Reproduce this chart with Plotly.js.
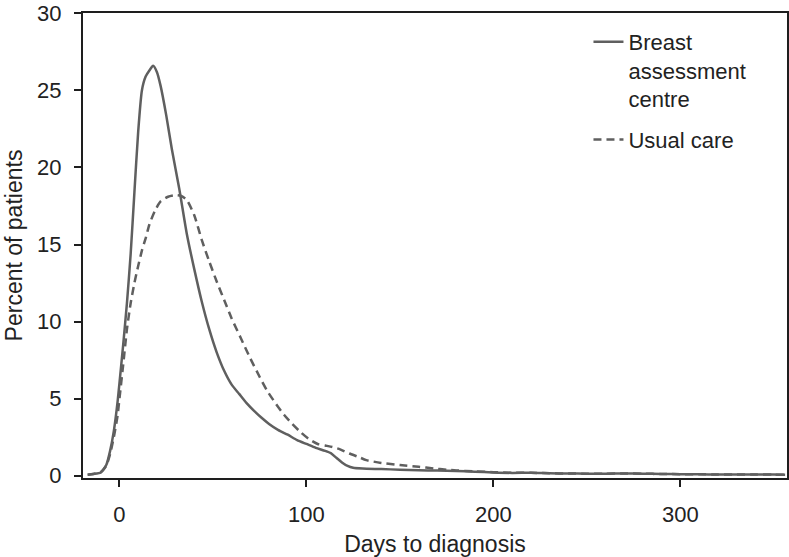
<!DOCTYPE html>
<html>
<head>
<meta charset="utf-8">
<script src="https://cdn.plot.ly/plotly-3.0.1.min.js"></script>
<style>
  html, body { margin: 0; padding: 0; background: #fff; }
  #chart { width: 789px; height: 557px; }
</style>
</head>
<body>
<div id="chart"></div>
<script>
// Breast assessment centre (solid)
const bacDays = [-17, -14, -10, -7, -5, -3, -1, 0, 2, 4, 6, 8, 10, 12, 14, 16, 18, 20, 22, 25, 28, 32, 36, 40, 44, 48, 52, 56, 60, 64, 68, 72, 76, 80, 85, 90, 95, 100, 105, 110, 113, 116, 119, 122, 125, 130, 140, 150, 160, 170, 180, 190, 200, 210, 220, 230, 240, 250, 260, 270, 280, 290, 300, 310, 320, 330, 340, 350, 356];
const bacPct = [0.05, 0.1, 0.2, 0.7, 1.6, 2.9, 4.8, 6.0, 8.5, 11.2, 14.4, 18.4, 22.3, 25.0, 25.9, 26.3, 26.6, 26.2, 25.3, 23.4, 21.2, 18.6, 15.7, 13.4, 11.3, 9.5, 8.0, 6.8, 5.9, 5.3, 4.7, 4.2, 3.75, 3.35, 2.95, 2.65, 2.3, 2.05, 1.8, 1.6, 1.45, 1.15, 0.85, 0.62, 0.5, 0.45, 0.42, 0.38, 0.35, 0.32, 0.3, 0.25, 0.2, 0.17, 0.18, 0.15, 0.13, 0.12, 0.12, 0.13, 0.12, 0.1, 0.09, 0.08, 0.07, 0.07, 0.06, 0.06, 0.05];

// Usual care (dashed)
const ucDays = [-17, -14, -10, -7, -5, -3, -1, 0, 2, 4, 6, 8, 10, 12, 14, 16, 19, 22, 26, 30, 33, 36, 40, 44, 48, 52, 56, 60, 65, 70, 75, 79, 84, 88, 92, 97, 101, 106, 110, 114, 118, 123, 128, 132, 140, 150, 160, 168, 175, 180, 190, 200, 210, 220, 230, 240, 250, 260, 270, 280, 290, 300, 310, 320, 330, 340, 350, 356];
const ucPct = [0.05, 0.1, 0.22, 0.65, 1.4, 2.5, 3.9, 5.0, 7.2, 9.5, 11.2, 12.5, 13.6, 14.6, 15.4, 16.3, 17.2, 17.8, 18.1, 18.2, 18.15, 17.9, 16.9, 15.3, 13.9, 12.6, 11.4, 10.2, 8.9, 7.6, 6.4, 5.5, 4.6, 3.95, 3.4, 2.8, 2.4, 2.05, 1.95, 1.85, 1.7, 1.43, 1.2, 1.0, 0.82, 0.68, 0.57, 0.46, 0.38, 0.33, 0.27, 0.22, 0.18, 0.18, 0.15, 0.13, 0.12, 0.12, 0.13, 0.12, 0.1, 0.09, 0.08, 0.07, 0.07, 0.06, 0.06, 0.05];

const seriesNames = ["Breast<br>assessment<br>centre", "Usual care"];
const xTicks = [0, 100, 200, 300];
const yTicks = [0, 5, 10, 15, 20, 25, 30];

const FONT = '"Liberation Sans", Arial, Helvetica, sans-serif';
const LINE = '#5f5f5f';

const traces = [
  {
    x: bacDays, y: bacPct, name: seriesNames[0], type: 'scatter', mode: 'lines', legendgroup: 'g1',
    line: { color: LINE, width: 2.5, shape: 'spline', smoothing: 0.6 }
  },
  {
    x: ucDays, y: ucPct, name: seriesNames[1], type: 'scatter', mode: 'lines', legendgroup: 'g2',
    line: { color: LINE, width: 2.5, dash: '8px,5px', shape: 'spline', smoothing: 0.6 }
  }
];

const axisCommon = {
  showgrid: false, zeroline: false, showline: true, mirror: true,
  linecolor: '#1e1e1e', linewidth: 2,
  ticks: 'outside', ticklen: 7, tickwidth: 2, tickcolor: '#1e1e1e',
  ticklabeloverflow: 'allow',
  tickfont: { family: FONT, size: 22, color: '#222' }
};

const layout = {
  width: 789, height: 557,
  margin: { l: 83, r: 2, t: 13, b: 79 },
  paper_bgcolor: '#fff', plot_bgcolor: '#fff',
  font: { family: FONT, size: 22, color: '#222' },
  showlegend: true,
  legend: {
    x: 0.718, y: 0.983, xanchor: 'left', yanchor: 'top',
    bgcolor: 'rgba(0,0,0,0)', borderwidth: 0,
    font: { family: FONT, size: 22, color: '#222' },
    valign: 'top', tracegroupgap: 9
  },
  xaxis: Object.assign({}, axisCommon, {
    range: [-19.5, 357], tickvals: xTicks, ticktext: xTicks.map(String),
    ticklabelstandoff: 9,
    title: { text: 'Days to diagnosis', font: { family: FONT, size: 23, color: '#222' }, standoff: 12 }
  }),
  yaxis: Object.assign({}, axisCommon, {
    range: [-0.16, 30.03], tickvals: yTicks, ticktext: yTicks.map(String),
    ticklabelstandoff: 8,
    title: { text: 'Percent of patients', font: { family: FONT, size: 23, color: '#222' }, standoff: 8 }
  })
};

Plotly.newPlot('chart', traces, layout, { displayModeBar: false, staticPlot: true });
</script>
</body>
</html>
